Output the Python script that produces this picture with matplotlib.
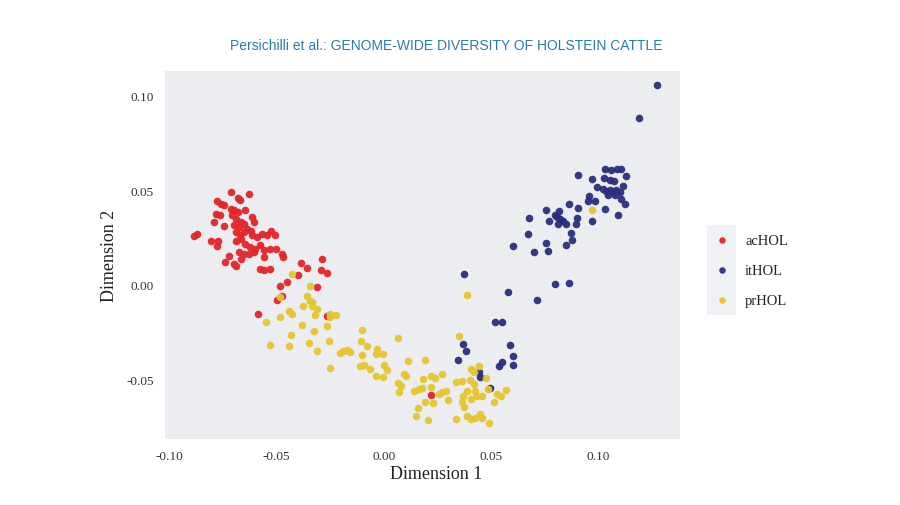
import matplotlib.pyplot as plt
from matplotlib.patches import Rectangle

# Points (Dimension 1, Dimension 2)
ac_x = [-0.0710, -0.0630, -0.0681, -0.0671, -0.0776, -0.0761, -0.0745, -0.0714, -0.0699, -0.0681,
        -0.0645, -0.0784, -0.0764, -0.0792, -0.0745, -0.0614, -0.0606, -0.0707, -0.0691, -0.0668,
        -0.0653, -0.0699, -0.0676, -0.0637, -0.0619, -0.0887, -0.0869, -0.0807, -0.0773, -0.0776,
        -0.0687, -0.0671, -0.0653, -0.0614, -0.0591, -0.0568, -0.0545, -0.0526, -0.0509, -0.0691,
        -0.0668, -0.0645, -0.0622, -0.0599, -0.0576, -0.0560, -0.0529, -0.0503, -0.0676, -0.0653,
        -0.0630, -0.0606, -0.0560, -0.0475, -0.0468, -0.0722, -0.0738, -0.0699, -0.0687, -0.0668,
        -0.0576, -0.0560, -0.0532, -0.0386, -0.0356, -0.0286, -0.0295, -0.0264, -0.0398, -0.0486,
        -0.0449, -0.0313, -0.0499, -0.0475, -0.0586, -0.0267, 0.0219]
ac_y = [0.0490, 0.0480, 0.0459, 0.0446, 0.0441, 0.0429, 0.0420, 0.0402, 0.0393, 0.0385,
        0.0393, 0.0376, 0.0367, 0.0332, 0.0310, 0.0358, 0.0332, 0.0367, 0.0349, 0.0332,
        0.0323, 0.0314, 0.0305, 0.0296, 0.0287, 0.0258, 0.0270, 0.0234, 0.0234, 0.0205,
        0.0279, 0.0261, 0.0279, 0.0261, 0.0252, 0.0270, 0.0261, 0.0287, 0.0261, 0.0234,
        0.0243, 0.0217, 0.0199, 0.0190, 0.0208, 0.0182, 0.0190, 0.0190, 0.0173, 0.0164,
        0.0164, 0.0173, 0.0146, 0.0164, 0.0146, 0.0152, 0.0123, 0.0111, 0.0102, 0.0138,
        0.0085, 0.0076, 0.0085, 0.0115, 0.0090, 0.0138, 0.0076, 0.0062, 0.0053, -0.0004,
        0.0014, -0.0012, -0.0079, -0.0060, -0.0153, -0.0164, -0.0582]

it_x = [0.1272, 0.1187, 0.1032, 0.1060, 0.1088, 0.1106, 0.0906, 0.0968, 0.1026, 0.1052,
        0.1073, 0.1127, 0.0995, 0.1022, 0.1037, 0.1052, 0.1068, 0.1083, 0.1099, 0.1114,
        0.1045, 0.1076, 0.1106, 0.0957, 0.0952, 0.0983, 0.1125, 0.1032, 0.1091, 0.0968,
        0.0864, 0.0903, 0.0756, 0.0816, 0.0798, 0.0806, 0.0821, 0.0836, 0.0847, 0.0813,
        0.0770, 0.0901, 0.0895, 0.0677, 0.0674, 0.0870, 0.0875, 0.0847, 0.0756, 0.0767,
        0.0702, 0.0602, 0.0374, 0.0577, 0.0713, 0.0798, 0.0863, 0.0517, 0.0551, 0.0369,
        0.0381, 0.0347, 0.0587, 0.0602, 0.0600, 0.0536, 0.0551, 0.0443, 0.0450, 0.0497]
it_y = [0.1055, 0.0882, 0.0614, 0.0605, 0.0610, 0.0610, 0.0578, 0.0557, 0.0564, 0.0552,
        0.0549, 0.0575, 0.0517, 0.0508, 0.0494, 0.0499, 0.0490, 0.0499, 0.0490, 0.0522,
        0.0473, 0.0476, 0.0455, 0.0469, 0.0441, 0.0441, 0.0425, 0.0402, 0.0370, 0.0335,
        0.0429, 0.0406, 0.0395, 0.0388, 0.0370, 0.0358, 0.0346, 0.0335, 0.0323, 0.0323,
        0.0335, 0.0354, 0.0323, 0.0353, 0.0266, 0.0273, 0.0238, 0.0208, 0.0220, 0.0178,
        0.0173, 0.0203, 0.0055, -0.0039, -0.0079, 0.0002, 0.0011, -0.0194, -0.0197, -0.0312,
        -0.0351, -0.0397, -0.0316, -0.0377, -0.0423, -0.0427, -0.0409, -0.0462, -0.0488, -0.0545]

pr_x = [-0.0429, -0.0344, -0.0483, -0.0360, -0.0344, -0.0336, -0.0375, -0.0313, -0.0444, -0.0429,
        -0.0483, -0.0251, -0.0221, -0.0336, -0.0321, -0.0249, -0.0548, -0.0383, -0.0326, -0.0264,
        -0.0434, -0.0529, -0.0444, -0.0347, -0.0310, -0.0255, -0.0249, -0.0205, -0.0190, -0.0174,
        -0.0159, -0.0102, -0.0108, -0.0077, -0.0100, -0.0110, -0.0094, -0.0066, -0.0031, -0.0036,
        -0.0005, -0.0001, 0.0014, -0.0036, -0.0005, 0.0068, 0.0111, 0.0096, 0.0103, 0.0065,
        0.0080, 0.0069, 0.0181, 0.0193, 0.0219, 0.0239, 0.0142, 0.0162, 0.0177, 0.0219,
        0.0193, 0.0231, 0.0157, 0.0150, 0.0207, 0.0258, 0.0273, 0.0270, 0.0288, 0.0300,
        0.0335, 0.0363, 0.0350, 0.0404, 0.0420, 0.0443, 0.0400, 0.0420, 0.0389, 0.0370,
        0.0366, 0.0374, 0.0425, 0.0435, 0.0404, 0.0458, 0.0474, 0.0486, 0.0513, 0.0528,
        0.0548, 0.0569, 0.0389, 0.0404, 0.0427, 0.0450, 0.0458, 0.0489, 0.0335, 0.0972,
        0.0386]
pr_y = [0.0058, -0.0004, -0.0065, -0.0057, -0.0083, -0.0110, -0.0110, -0.0127, -0.0136, -0.0153,
        -0.0171, -0.0153, -0.0159, -0.0092, -0.0162, -0.0171, -0.0194, -0.0215, -0.0242, -0.0219,
        -0.0265, -0.0317, -0.0326, -0.0307, -0.0351, -0.0298, -0.0441, -0.0360, -0.0348, -0.0342,
        -0.0353, -0.0237, -0.0295, -0.0326, -0.0370, -0.0427, -0.0422, -0.0444, -0.0339, -0.0365,
        -0.0365, -0.0423, -0.0448, -0.0480, -0.0488, -0.0282, -0.0404, -0.0471, -0.0483, -0.0519,
        -0.0536, -0.0568, -0.0497, -0.0398, -0.0480, -0.0492, -0.0559, -0.0550, -0.0547, -0.0541,
        -0.0621, -0.0626, -0.0651, -0.0695, -0.0713, -0.0577, -0.0471, -0.0568, -0.0559, -0.0608,
        -0.0515, -0.0506, -0.0268, -0.0444, -0.0462, -0.0430, -0.0501, -0.0524, -0.0559, -0.0589,
        -0.0621, -0.0647, -0.0559, -0.0586, -0.0603, -0.0586, -0.0494, -0.0550, -0.0621, -0.0577,
        -0.0589, -0.0554, -0.0691, -0.0709, -0.0705, -0.0683, -0.0705, -0.0730, -0.0709, 0.0393,
        -0.0053]

red = '#e2262b'
navy = '#2b2f7b'
yellow = '#e5c530'

plt.rcParams['font.family'] = ['Liberation Serif', 'DejaVu Serif']

fig = plt.figure(figsize=(9, 5.06), dpi=100)
fig.patch.set_facecolor('white')
ax = fig.add_axes([0.1833, 0.1304, 0.5722, 0.7273])
ax.set_facecolor('#ebedf0')

ax.scatter(ac_x, ac_y, s=30, color=red, linewidths=0, label='acHOL', alpha=0.95)
ax.scatter(it_x, it_y, s=30, color=navy, linewidths=0, label='itHOL', alpha=0.95)
ax.scatter(pr_x, pr_y, s=30, color=yellow, linewidths=0, label='prHOL', alpha=0.95)

ax.set_xlim(-0.102, 0.138)
ax.set_ylim(-0.0815, 0.113)
ax.set_xticks([-0.10, -0.05, 0.00, 0.05, 0.10])
ax.set_yticks([-0.05, 0.00, 0.05, 0.10])
ax.set_xticklabels(['-0.10', '-0.05', '0.00', '0.05', '0.10'])
ax.set_yticklabels(['-0.05', '0.00', '0.05', '0.10'])
ax.tick_params(length=0, labelsize=9.5, labelcolor='#333333', pad=8)
for sp in ax.spines.values():
    sp.set_visible(False)

ax.set_xlabel('Dimension 1', fontsize=13, color='#222222', labelpad=2, x=0.526)
ax.set_ylabel('Dimension 2', fontsize=13, color='#222222', labelpad=6)

# pale strip behind the legend markers
fig.patches.append(Rectangle((707 / 900, 1 - 316 / 506), 29 / 900, 90 / 506,
                             transform=fig.transFigure, facecolor='#eff1f4',
                             edgecolor='none', zorder=0))

leg = fig.legend(loc='center left', bbox_to_anchor=(714.5 / 900, 1 - 271 / 506),
                 frameon=False, fontsize=10.5, markerscale=0.85, handlelength=1.0,
                 handletextpad=1.1, labelspacing=1.15, borderpad=0, borderaxespad=0)
for t in leg.get_texts():
    t.set_color('#222222')

fig.text(0.4956, 0.909, 'Persichilli et al.: GENOME-WIDE DIVERSITY OF HOLSTEIN CATTLE',
         ha='center', va='center', fontsize=10, color='#2a7ab8', family='Liberation Sans')

fig.savefig('out.png', dpi=100)
